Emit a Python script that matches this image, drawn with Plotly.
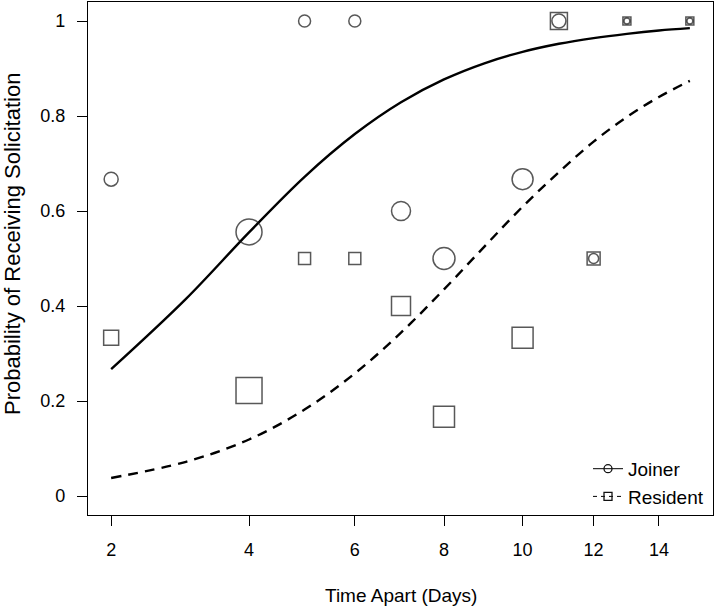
import numpy as np
import plotly.graph_objects as go

# ---- data ----
days = [2, 4, 5, 6, 7, 8, 10, 11, 12, 13, 15]
joiner_p = [0.667, 0.556, 1.0, 1.0, 0.6, 0.5, 0.667, 1.0, 0.5, 1.0, 1.0]
resident_p = [0.333, 0.222, 0.5, 0.5, 0.4, 0.167, 0.333, 1.0, 0.5, 1.0, 1.0]
joiner_size = [14, 26, 12, 12, 19, 22, 21, 14, 10, 6, 6]
resident_size = [15, 26, 12, 12, 19, 21, 21, 17, 13, 8, 8]

curve_days = [2, 3, 4, 5, 6, 7, 8, 9, 10, 11, 12, 13, 14, 15]
joiner_fit = [0.267, 0.415, 0.555, 0.672, 0.762, 0.829, 0.877, 0.911, 0.935,
              0.952, 0.964, 0.973, 0.980, 0.985]
resident_fit = [0.038, 0.072, 0.119, 0.182, 0.258, 0.344, 0.435, 0.525, 0.609,
                0.682, 0.746, 0.798, 0.840, 0.874]

x_ticks = [2, 4, 6, 8, 10, 12, 14]
y_ticks = [0, 0.2, 0.4, 0.6, 0.8, 1]
y_tick_text = ["0", "0.2", "0.4", "0.6", "0.8", "1"]

sq = lambda v: np.sqrt(np.asarray(v, dtype=float))

FONT = "Liberation Sans, Arial, sans-serif"
MK = "#111111"

fig = go.Figure()
fig.add_trace(go.Scatter(x=sq(curve_days), y=joiner_fit, mode="lines",
                         line=dict(color="black", width=2.4, shape="spline"),
                         showlegend=False))
fig.add_trace(go.Scatter(x=sq(curve_days), y=resident_fit, mode="lines",
                         line=dict(color="black", width=2.4, dash="10px,7px", shape="spline"),
                         showlegend=False))
fig.add_trace(go.Scatter(x=sq(days), y=resident_p, mode="markers",
                         marker=dict(symbol="square-open", size=resident_size, color=MK,
                                     line=dict(width=1.5, color=MK)),
                         showlegend=False))
fig.add_trace(go.Scatter(x=sq(days), y=joiner_p, mode="markers",
                         marker=dict(symbol="circle-open", size=joiner_size, color=MK,
                                     line=dict(width=1.5, color=MK)),
                         showlegend=False))
# legend entries
fig.add_trace(go.Scatter(x=[None], y=[None], mode="lines+markers", name="Joiner",
                         line=dict(color="black", width=1),
                         marker=dict(symbol="circle-open", size=8, color=MK, line=dict(width=1.3))))
fig.add_trace(go.Scatter(x=[None], y=[None], mode="lines+markers", name="Resident",
                         line=dict(color="black", width=1, dash="4px,4px"),
                         marker=dict(symbol="square-open", size=8, color=MK, line=dict(width=1.3))))

xmin, xmax = np.sqrt(2), np.sqrt(15)
pad = 0.04 * (xmax - xmin)

fig.update_layout(
    width=717, height=608,
    margin=dict(l=88, r=4, t=2, b=93),
    paper_bgcolor="white", plot_bgcolor="white",
    font=dict(family=FONT, size=18, color="black"),
    xaxis=dict(range=[xmin - pad, xmax + pad], tickvals=sq(x_ticks),
               ticktext=[str(v) for v in x_ticks],
               showgrid=False, zeroline=False, showline=True, mirror=True,
               linecolor="black", linewidth=1.2, ticks="outside", ticklen=10,
               tickcolor="black", tickwidth=1.2, ticklabelstandoff=8),
    yaxis=dict(range=[-0.04, 1.04], tickvals=y_ticks, ticktext=y_tick_text,
               showgrid=False, zeroline=False, showline=True, mirror=True,
               linecolor="black", linewidth=1.2, ticks="outside", ticklen=10,
               tickcolor="black", tickwidth=1.2, ticklabelstandoff=8),
    legend=dict(x=0.80, y=0.127, xanchor="left", yanchor="top",
                bgcolor="rgba(0,0,0,0)", font=dict(size=19),
                itemwidth=30, tracegroupgap=0),
    annotations=[
        dict(text="Time Apart (Days)", xref="paper", yref="paper",
             x=(401 - 88) / 625, y=-(595 - 515) / 513, xanchor="center", yanchor="middle",
             showarrow=False, font=dict(size=19)),
        dict(text="Probability of Receiving Solicitation", xref="paper", yref="paper",
             x=-(88 - 12) / 625, y=(515 - 244) / 513, xanchor="center", yanchor="middle",
             textangle=-90, showarrow=False, font=dict(size=22)),
    ],
)

fig.write_html("out.html", config={"displayModeBar": False},
               post_script="document.body.style.margin='0';")
